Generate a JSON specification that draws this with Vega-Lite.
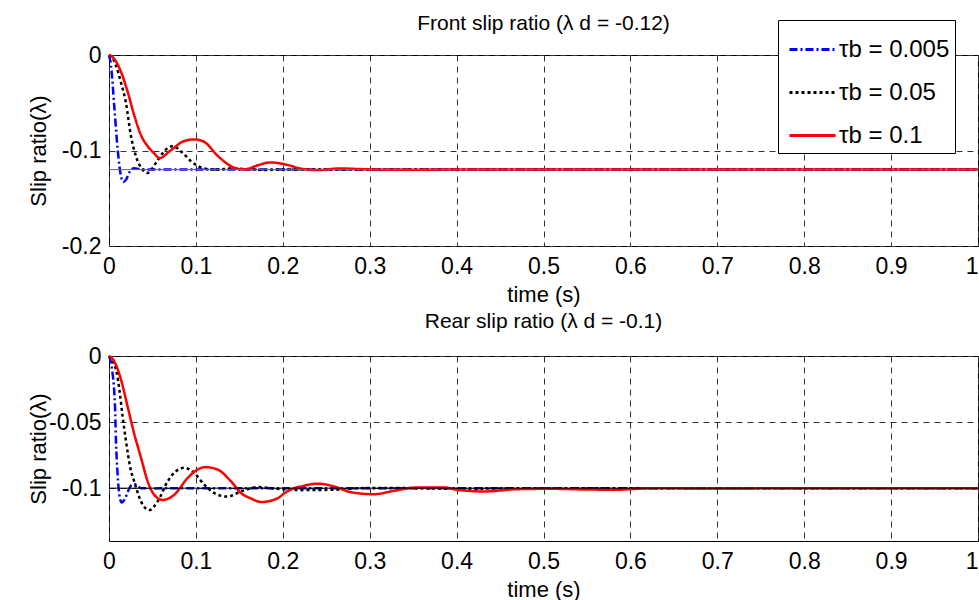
{
  "$schema": "https://vega.github.io/schema/vega-lite/v6.json",
  "background": "white",
  "padding": {"left": 26, "top": 12, "right": 2, "bottom": 5},
  "datasets": {
    "front": [
      {"s":"τb = 0.005","t":0,"v":0},{"s":"τb = 0.005","t":0.0023,"v":-0.011},{"s":"τb = 0.005","t":0.006,"v":-0.053},{"s":"τb = 0.005","t":0.01,"v":-0.099},{"s":"τb = 0.005","t":0.013,"v":-0.123},{"s":"τb = 0.005","t":0.0165,"v":-0.133},{"s":"τb = 0.005","t":0.02,"v":-0.13},{"s":"τb = 0.005","t":0.0234,"v":-0.123},{"s":"τb = 0.005","t":0.029,"v":-0.1185},{"s":"τb = 0.005","t":0.035,"v":-0.1195},{"s":"τb = 0.005","t":0.05,"v":-0.12},{"s":"τb = 0.005","t":1,"v":-0.12},
      {"s":"τb = 0.05","t":0,"v":0},{"s":"τb = 0.05","t":0.004,"v":-0.003},{"s":"τb = 0.05","t":0.008,"v":-0.011},{"s":"τb = 0.05","t":0.0138,"v":-0.029},{"s":"τb = 0.05","t":0.0195,"v":-0.05},{"s":"τb = 0.05","t":0.0253,"v":-0.085},{"s":"τb = 0.05","t":0.031,"v":-0.106},{"s":"τb = 0.05","t":0.0387,"v":-0.12},{"s":"τb = 0.05","t":0.0445,"v":-0.1235},{"s":"τb = 0.05","t":0.054,"v":-0.113},{"s":"τb = 0.05","t":0.0636,"v":-0.1007},{"s":"τb = 0.05","t":0.073,"v":-0.0955},{"s":"τb = 0.05","t":0.0848,"v":-0.1025},{"s":"τb = 0.05","t":0.094,"v":-0.111},{"s":"τb = 0.05","t":0.111,"v":-0.119},{"s":"τb = 0.05","t":0.125,"v":-0.12},{"s":"τb = 0.05","t":0.14,"v":-0.1188},{"s":"τb = 0.05","t":0.16,"v":-0.1195},{"s":"τb = 0.05","t":0.18,"v":-0.1205},{"s":"τb = 0.05","t":0.2,"v":-0.1198},{"s":"τb = 0.05","t":0.25,"v":-0.12},{"s":"τb = 0.05","t":1,"v":-0.12},
      {"s":"τb = 0.1","t":0,"v":0},{"s":"τb = 0.1","t":0.006,"v":-0.004},{"s":"τb = 0.1","t":0.0138,"v":-0.0176},{"s":"τb = 0.1","t":0.0215,"v":-0.0386},{"s":"τb = 0.1","t":0.029,"v":-0.063},{"s":"τb = 0.1","t":0.0368,"v":-0.084},{"s":"τb = 0.1","t":0.0445,"v":-0.0955},{"s":"τb = 0.1","t":0.052,"v":-0.103},{"s":"τb = 0.1","t":0.058,"v":-0.108},{"s":"τb = 0.1","t":0.071,"v":-0.0998},{"s":"τb = 0.1","t":0.0867,"v":-0.09},{"s":"τb = 0.1","t":0.0985,"v":-0.0884},{"s":"τb = 0.1","t":0.1096,"v":-0.091},{"s":"τb = 0.1","t":0.125,"v":-0.1055},{"s":"τb = 0.1","t":0.144,"v":-0.118},{"s":"τb = 0.1","t":0.156,"v":-0.12},{"s":"τb = 0.1","t":0.171,"v":-0.1155},{"s":"τb = 0.1","t":0.186,"v":-0.1125},{"s":"τb = 0.1","t":0.205,"v":-0.115},{"s":"τb = 0.1","t":0.221,"v":-0.119},{"s":"τb = 0.1","t":0.24,"v":-0.1205},{"s":"τb = 0.1","t":0.265,"v":-0.1188},{"s":"τb = 0.1","t":0.29,"v":-0.1195},{"s":"τb = 0.1","t":0.32,"v":-0.1202},{"s":"τb = 0.1","t":0.4,"v":-0.12},{"s":"τb = 0.1","t":1,"v":-0.12}
    ],
    "rear": [
      {"s":"τb = 0.005","t":0,"v":0},{"s":"τb = 0.005","t":0.003,"v":-0.008},{"s":"τb = 0.005","t":0.0069,"v":-0.038},{"s":"τb = 0.005","t":0.008,"v":-0.064},{"s":"τb = 0.005","t":0.0099,"v":-0.0897},{"s":"τb = 0.005","t":0.0119,"v":-0.105},{"s":"τb = 0.005","t":0.0146,"v":-0.1108},{"s":"τb = 0.005","t":0.0185,"v":-0.108},{"s":"τb = 0.005","t":0.0215,"v":-0.103},{"s":"τb = 0.005","t":0.026,"v":-0.0975},{"s":"τb = 0.005","t":0.029,"v":-0.0969},{"s":"τb = 0.005","t":0.033,"v":-0.0985},{"s":"τb = 0.005","t":0.0368,"v":-0.1},{"s":"τb = 0.005","t":0.05,"v":-0.1002},{"s":"τb = 0.005","t":0.1,"v":-0.1},{"s":"τb = 0.005","t":1,"v":-0.1},
      {"s":"τb = 0.05","t":0,"v":0},{"s":"τb = 0.05","t":0.005,"v":-0.005},{"s":"τb = 0.05","t":0.009,"v":-0.013},{"s":"τb = 0.05","t":0.012,"v":-0.0256},{"s":"τb = 0.05","t":0.0157,"v":-0.046},{"s":"τb = 0.05","t":0.0195,"v":-0.064},{"s":"τb = 0.05","t":0.0245,"v":-0.0846},{"s":"τb = 0.05","t":0.029,"v":-0.0949},{"s":"τb = 0.05","t":0.0368,"v":-0.11},{"s":"τb = 0.05","t":0.0463,"v":-0.1166},{"s":"τb = 0.05","t":0.056,"v":-0.11},{"s":"τb = 0.05","t":0.0675,"v":-0.0949},{"s":"τb = 0.05","t":0.077,"v":-0.0872},{"s":"τb = 0.05","t":0.0866,"v":-0.0846},{"s":"τb = 0.05","t":0.098,"v":-0.0885},{"s":"τb = 0.05","t":0.1096,"v":-0.0974},{"s":"τb = 0.05","t":0.1212,"v":-0.1038},{"s":"τb = 0.05","t":0.136,"v":-0.1064},{"s":"τb = 0.05","t":0.152,"v":-0.1025},{"s":"τb = 0.05","t":0.171,"v":-0.0992},{"s":"τb = 0.05","t":0.194,"v":-0.1005},{"s":"τb = 0.05","t":0.221,"v":-0.1015},{"s":"τb = 0.05","t":0.259,"v":-0.1012},{"s":"τb = 0.05","t":0.3,"v":-0.0998},{"s":"τb = 0.05","t":0.35,"v":-0.1},{"s":"τb = 0.05","t":0.4,"v":-0.1005},{"s":"τb = 0.05","t":0.5,"v":-0.1},{"s":"τb = 0.05","t":1,"v":-0.1},
      {"s":"τb = 0.1","t":0,"v":0},{"s":"τb = 0.1","t":0.006,"v":-0.004},{"s":"τb = 0.1","t":0.0138,"v":-0.0179},{"s":"τb = 0.1","t":0.0215,"v":-0.0385},{"s":"τb = 0.1","t":0.029,"v":-0.0589},{"s":"τb = 0.1","t":0.0368,"v":-0.0769},{"s":"τb = 0.1","t":0.0445,"v":-0.0949},{"s":"τb = 0.1","t":0.052,"v":-0.105},{"s":"τb = 0.1","t":0.0617,"v":-0.1089},{"s":"τb = 0.1","t":0.0751,"v":-0.105},{"s":"τb = 0.1","t":0.0905,"v":-0.0923},{"s":"τb = 0.1","t":0.102,"v":-0.0859},{"s":"τb = 0.1","t":0.111,"v":-0.0841},{"s":"τb = 0.1","t":0.125,"v":-0.0859},{"s":"τb = 0.1","t":0.1404,"v":-0.0949},{"s":"τb = 0.1","t":0.152,"v":-0.1038},{"s":"τb = 0.1","t":0.163,"v":-0.1077},{"s":"τb = 0.1","t":0.175,"v":-0.1105},{"s":"τb = 0.1","t":0.194,"v":-0.1077},{"s":"τb = 0.1","t":0.202,"v":-0.1038},{"s":"τb = 0.1","t":0.213,"v":-0.1},{"s":"τb = 0.1","t":0.221,"v":-0.0987},{"s":"τb = 0.1","t":0.24,"v":-0.0966},{"s":"τb = 0.1","t":0.259,"v":-0.0987},{"s":"τb = 0.1","t":0.278,"v":-0.103},{"s":"τb = 0.1","t":0.305,"v":-0.1046},{"s":"τb = 0.1","t":0.328,"v":-0.102},{"s":"τb = 0.1","t":0.355,"v":-0.0995},{"s":"τb = 0.1","t":0.386,"v":-0.0995},{"s":"τb = 0.1","t":0.401,"v":-0.1013},{"s":"τb = 0.1","t":0.432,"v":-0.1025},{"s":"τb = 0.1","t":0.47,"v":-0.1008},{"s":"τb = 0.1","t":0.508,"v":-0.1005},{"s":"τb = 0.1","t":0.546,"v":-0.101},{"s":"τb = 0.1","t":0.585,"v":-0.1012},{"s":"τb = 0.1","t":0.624,"v":-0.1},{"s":"τb = 0.1","t":0.7,"v":-0.1003},{"s":"τb = 0.1","t":0.8,"v":-0.1},{"s":"τb = 0.1","t":1,"v":-0.1}
    ]
  },
  "config": {
    "font": "Liberation Sans",
    "view": {"stroke": "#000", "strokeWidth": 1},
    "axis": {"grid": true, "gridColor": "#333", "gridDash": [6, 5], "gridWidth": 1, "domain": false, "ticks": false, "labelFontSize": 23, "labelColor": "#000", "labelFont": "Liberation Sans", "titleFontSize": 22, "titleFontWeight": "normal", "titleColor": "#000", "titleFont": "Liberation Sans", "labelFlush": false, "labelOverlap": false},
    "axisX": {"labelPadding": 9, "titlePadding": 6, "labelAlign": {"condition": {"test": "datum.value == 1", "value": "right"}, "value": "center"}},
    "axisY": {"labelPadding": 8, "titleX": -71, "titleBaseline": "middle"},
    "title": {"fontSize": 21, "fontWeight": "normal", "color": "#000", "font": "Liberation Sans"},
    "legend": {"fillColor": "#fff", "strokeColor": "#000", "padding": 5, "symbolOffset": 5, "symbolType": "stroke", "symbolSize": 2116, "symbolStrokeWidth": 3, "labelFontSize": 24, "labelColor": "#000", "labelFont": "Liberation Sans", "rowPadding": 6, "labelOffset": 2, "orient": "none"},
    "concat": {"spacing": 4}
  },
  "vconcat": [
    {
      "title": {"text": "Front slip ratio (λ d = -0.12)", "offset": 10},
      "width": 869,
      "height": 191,
      "layer": [
        {
          "data": {"name": "front"},
          "mark": {"type": "line", "strokeWidth": 2.5, "interpolate": "monotone", "strokeCap": "butt"},
          "encoding": {
            "x": {"field": "t", "type": "quantitative", "scale": {"domain": [0, 1], "nice": false}, "title": "time (s)", "axis": {"values": [0, 0.1, 0.2, 0.3, 0.4, 0.5, 0.6, 0.7, 0.8, 0.9, 1], "labelExpr": "format(datum.value, '.1~f')"}},
            "y": {"field": "v", "type": "quantitative", "scale": {"domain": [-0.2, 0], "nice": false}, "title": "Slip ratio(λ)", "axis": {"values": [0, -0.1, -0.2], "labelExpr": "replace(format(datum.value, '.2~f'), '\u2212', '-')"}},
            "color": {"field": "s", "type": "nominal", "scale": {"domain": ["τb = 0.005", "τb = 0.05", "τb = 0.1"], "range": ["#0000ff", "#000000", "#ff0000"]}, "legend": {"title": null, "legendX": 669, "legendY": -35}},
            "strokeDash": {"field": "s", "type": "nominal", "scale": {"domain": ["τb = 0.005", "τb = 0.05", "τb = 0.1"], "range": [[8, 3, 2, 3], [3, 3], [1, 0]]}, "legend": {"title": null, "legendX": 669, "legendY": -35}}
          }
        },
        {
          "data": {"values": [{"ref": -0.12}]},
          "mark": {"type": "rule", "color": "#666", "strokeWidth": 1},
          "encoding": {"y": {"field": "ref", "type": "quantitative"}}
        }
      ]
    },
    {
      "title": {"text": "Rear slip ratio (λ d = -0.1)", "offset": 13},
      "width": 869,
      "height": 185,
      "layer": [
        {
          "data": {"name": "rear"},
          "mark": {"type": "line", "strokeWidth": 2.5, "interpolate": "monotone", "strokeCap": "butt"},
          "encoding": {
            "x": {"field": "t", "type": "quantitative", "scale": {"domain": [0, 1], "nice": false}, "title": "time (s)", "axis": {"values": [0, 0.1, 0.2, 0.3, 0.4, 0.5, 0.6, 0.7, 0.8, 0.9, 1], "labelExpr": "format(datum.value, '.1~f')"}},
            "y": {"field": "v", "type": "quantitative", "scale": {"domain": [-0.14, 0], "nice": false}, "title": "Slip ratio(λ)", "axis": {"values": [0, -0.05, -0.1], "labelExpr": "replace(format(datum.value, '.2~f'), '\u2212', '-')"}},
            "color": {"field": "s", "type": "nominal", "scale": {"domain": ["τb = 0.005", "τb = 0.05", "τb = 0.1"], "range": ["#0000ff", "#000000", "#ff0000"]}, "legend": {"title": null, "legendX": 663, "legendY": -16}},
            "strokeDash": {"field": "s", "type": "nominal", "scale": {"domain": ["τb = 0.005", "τb = 0.05", "τb = 0.1"], "range": [[8, 3, 2, 3], [3, 3], [1, 0]]}, "legend": {"title": null, "legendX": 663, "legendY": -16}}
          }
        },
        {
          "data": {"values": [{"ref": -0.1}]},
          "mark": {"type": "rule", "color": "#000", "strokeWidth": 1},
          "encoding": {"y": {"field": "ref", "type": "quantitative"}}
        }
      ]
    }
  ]
}
